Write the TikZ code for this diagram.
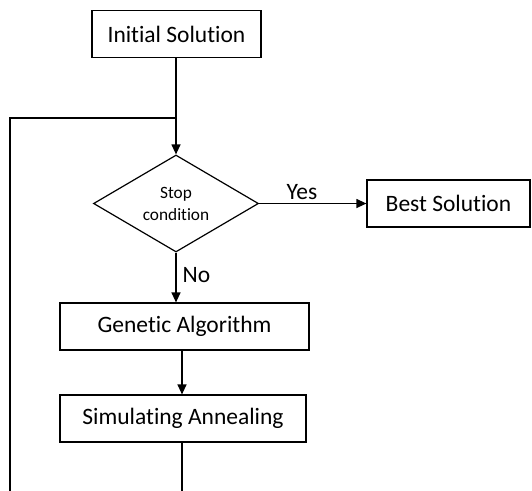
\documentclass[tikz,border=0pt]{standalone}
\usepackage{fontspec}
\setmainfont[Ligatures=NoCommon]{Carlito}
\usetikzlibrary{shapes.geometric,arrows.meta}
\begin{document}
\begin{tikzpicture}[x=1pt,y=-1pt,
  line width=1.2pt,
  box/.style={draw, rectangle, inner sep=0pt, font=\fontsize{23.5}{27}\selectfont},
  dec/.style={draw, diamond, inner sep=0pt, shape aspect=1.7, align=center,
    font=\fontsize{17.3}{22}\selectfont},
  lbl/.style={inner sep=0pt, font=\fontsize{23.5}{27}\selectfont},
  arr/.style={-{Triangle[length=10pt,width=9pt]}}]
\useasboundingbox (0,0) rectangle (532,490);
\node[box, minimum width=169pt, minimum height=47pt] (init) at (176.5,34) {Initial Solution};
\node[dec, minimum width=165pt, minimum height=97pt] (stop) at (176,203.5) {Stop\\condition};
\node[box, minimum width=163pt, minimum height=47pt] (best) at (448.5,203.5) {Best Solution};
\node[box, minimum width=249pt, minimum height=47pt] (ga) at (184.5,326.5) {Genetic Algorithm};
\node[box, minimum width=246pt, minimum height=47pt] (sa) at (183,418.5) {Simulating Annealing};
\coordinate (join) at (176,118);
\coordinate (lefttop) at (10,118);
\coordinate (leftbot) at (10,492);
\coordinate (sabot) at (182,492);
\draw[arr] (init.south -| join) -- (stop.north);
\draw (leftbot) -- (lefttop) -- (join);
\draw[arr] (stop.east) -- (best.west) node[lbl, pos=0.4, above=3pt] {Yes};
\draw[arr] (stop.south) -- (stop.south |- ga.north) node[lbl, pos=0.45, right=6pt] {No};
\draw[arr] (ga.south -| sabot) -- (sa.north -| sabot);
\draw (sa.south -| sabot) -- (sabot);
\end{tikzpicture}
\end{document}
